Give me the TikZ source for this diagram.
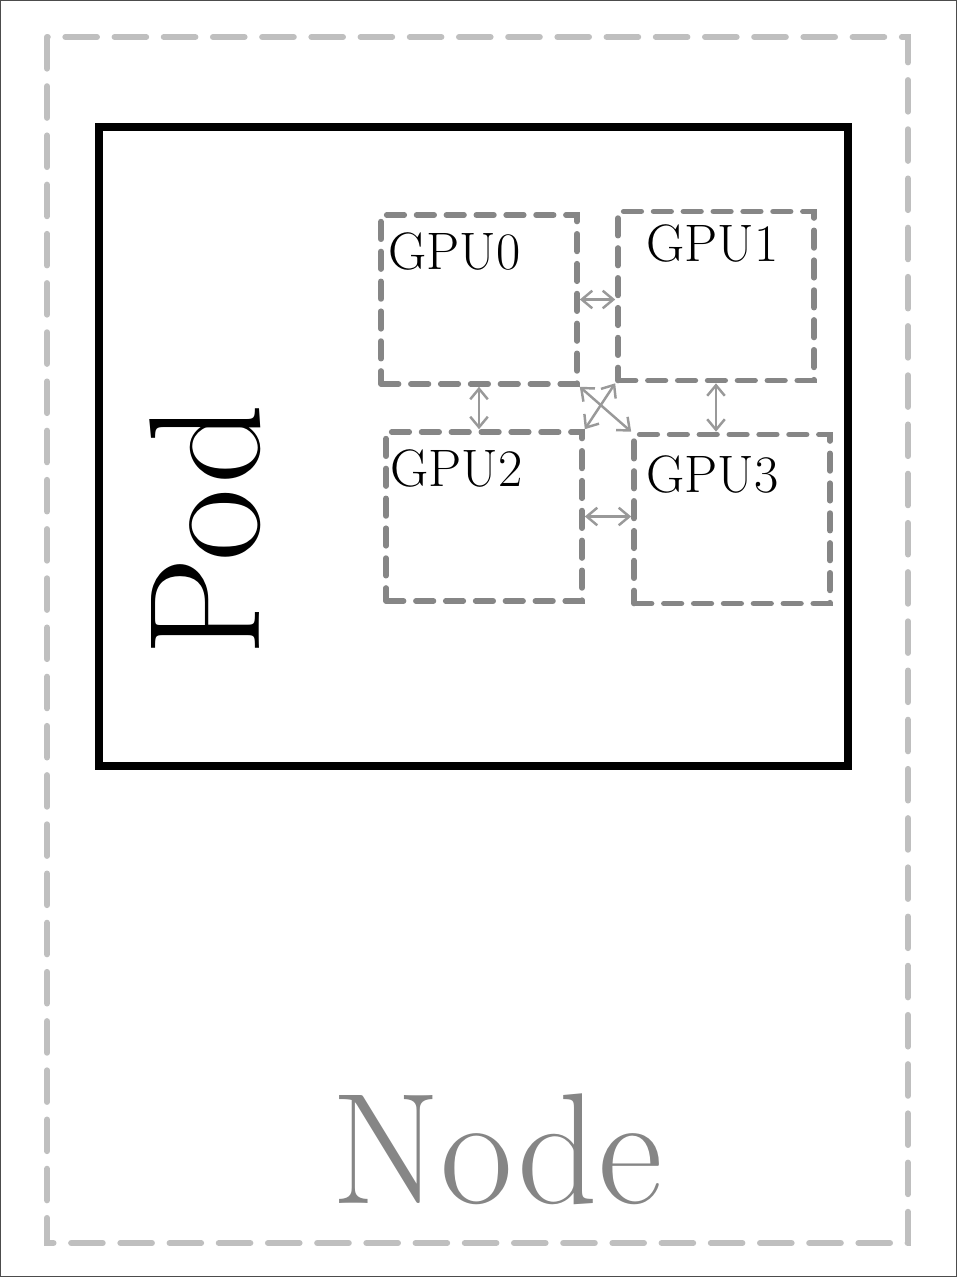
\documentclass[tikz,border=0pt]{standalone}
\usepackage{tikz}
\usetikzlibrary{arrows.meta, positioning}

\begin{document}
\begin{tikzpicture}[
        x=0.2mm, y=-0.2mm,
        nodebox/.style={draw=gray!50, line width=3.4pt, line cap=round, dash pattern=on 18pt off 10pt},
        podbox/.style={draw=black, line width=4pt},
        gpu/.style={draw=gray!95, line width=3.2pt, line cap=round, dash pattern=on 10pt off 7pt,
            minimum width=39.2mm, minimum height=33.8mm, inner sep=0pt},
        tag/.style={inner sep=0pt, font=\fontsize{30}{30}\selectfont},
        link/.style={{Straight Barb[length=6pt,width=10pt]}-{Straight Barb[length=6pt,width=10pt]}, draw=gray!80, line width=1.4pt}
    ]
        \useasboundingbox (0,0) rectangle (957,1277);
        \draw[gray!60!black, line width=0.6pt] (0.6,0.6) rectangle (956.4,1276.4);

        % outer machine and pod
        \draw[nodebox] (47,37) rectangle (908,1243);
        \draw[podbox] (99,127) rectangle (848,766);
        \node[font=\fontsize{90}{90}\selectfont, rotate=90] (podname) at (205,530) {Pod};
        \node[font=\fontsize{90}{90}\selectfont, text=gray!95, anchor=base] (nodename) at (497,1203) {Node};

        % gpus
        \node[gpu] (gpu0) at (479,299.5) {};
        \node[gpu] (gpu1) at (716,296) {};
        \node[gpu] (gpu2) at (484,516.5) {};
        \node[gpu] (gpu3) at (732,519) {};
        \node[tag, below right=4mm and 2mm of gpu0.north west] (t0) {GPU0};
        \node[tag, below right=3.2mm and 6.2mm of gpu1.north west] (t1) {GPU1};
        \node[tag, below right=4mm and 1.4mm of gpu2.north west] (t2) {GPU2};
        \node[tag, below right=4.8mm and 3mm of gpu3.north west] (t3) {GPU3};

        % links
        \draw[link] (gpu0.east) -- (gpu1.west |- gpu0.east);
        \draw[link] (gpu0.south) -- (gpu0.south |- gpu2.north);
        \draw[link] (gpu1.south) -- (gpu1.south |- gpu3.north);
        \draw[link] (gpu2.east) -- (gpu3.west |- gpu2.east);
        \draw[link] (gpu0.south east) -- (gpu3.north west);
        \draw[link] (gpu1.south west) -- (gpu2.north east);
    \end{tikzpicture}
\end{document}
